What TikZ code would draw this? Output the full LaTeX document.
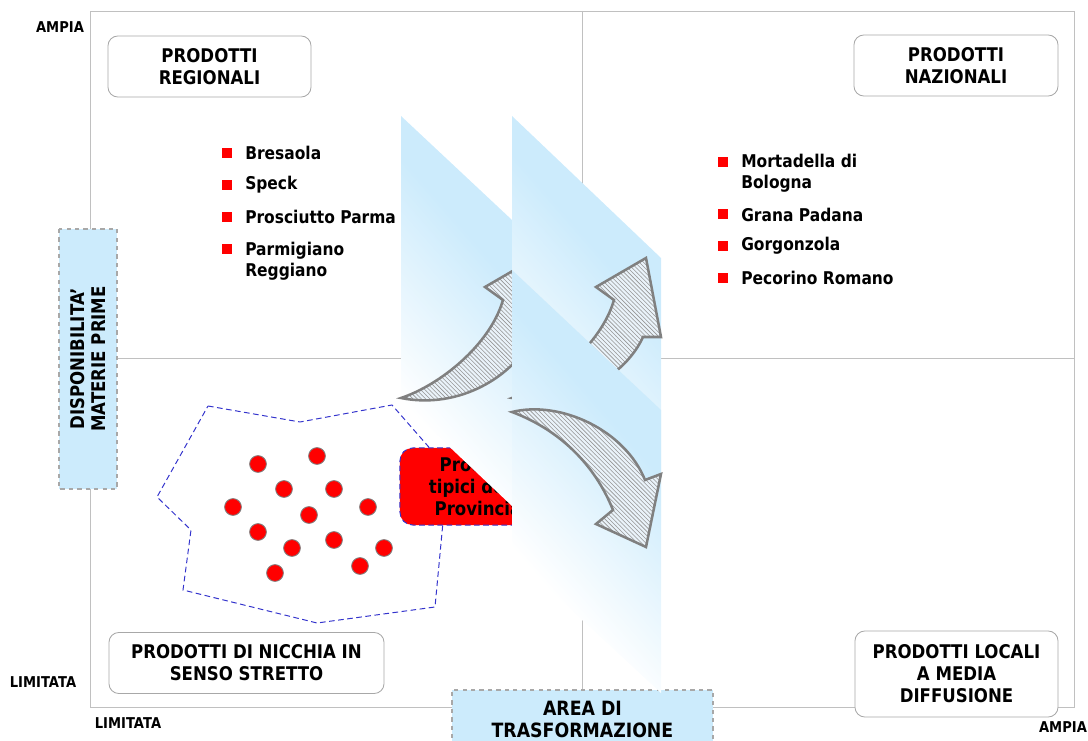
\documentclass[tikz,border=0pt]{standalone}
\usepackage{fontspec}
\setmainfont{DejaVu Sans}[FakeStretch=0.88]
\usepackage{tikz}
\usetikzlibrary{patterns}

\definecolor{framegray}{RGB}{192,192,192}
\definecolor{boxgray}{RGB}{168,168,168}
\definecolor{lblue}{RGB}{204,235,252}
\definecolor{polyblue}{RGB}{51,51,204}
\definecolor{arrowgray}{RGB}{128,128,128}
\definecolor{arrowfill}{RGB}{234,243,250}
\definecolor{hatchgray}{RGB}{150,150,150}

\pgfdeclareverticalshading{bandshade}{100bp}{color(0bp)=(white); color(40bp)=(white); color(56bp)=(lblue); color(100bp)=(lblue)}

\newcommand{\quadfont}{\fontsize{13.4}{15.6}\selectfont\bfseries}
\newcommand{\listfont}{\fontsize{12.5}{15}\selectfont\bfseries}
\newcommand{\axfont}{\fontsize{10.6}{12}\selectfont\bfseries}

\tikzset{
    quadbox/.style={draw=boxgray, line width=0.6pt, rounded corners=7pt, fill=white, align=center, inner sep=0pt, font=\quadfont},
    axisbox/.style={draw=boxgray, dashed, line width=0.8pt, fill=lblue, align=center, inner sep=0pt, font=\quadfont},
    axlabel/.style={font=\axfont, inner sep=0pt},
    sqbullet/.style={fill=red, minimum size=0.26cm, inner sep=0pt},
    listitem/.style={font=\listfont, align=left, anchor=west, inner sep=0pt},
    reddot/.style={circle, fill=red, draw=gray, line width=0.6pt, minimum size=0.42cm, inner sep=0pt},
    nicchiaarea/.style={draw=polyblue, line width=0.7pt, dash pattern=on 4pt off 2.5pt},
    tipicibox/.style={fill=red, draw=polyblue, line width=0.7pt, dash pattern=on 4pt off 2.5pt, rounded corners=9pt, align=center, inner sep=0pt, font=\quadfont},
    curvedarrow/.style={draw=arrowgray, line width=1.8pt, preaction={fill=arrowfill}, pattern=north west lines, pattern color=hatchgray},
    band/.style={shading=bandshade, shading angle=-49}
}

\begin{document}
\begin{tikzpicture}[x=0.025cm, y=-0.025cm]
    \useasboundingbox (0,0) rectangle (1088,741);
    \clip (0,0) rectangle (1088,741);

    % Quadrants
    \draw[framegray, line width=0.7pt] (90,11) rectangle (1074,707);
    \draw[framegray, line width=0.7pt] (582,11) -- (582,707) (90,358) -- (1074,358);

    \node[quadbox, minimum width=5.075cm, minimum height=1.525cm] (regionali) at (209.5,66.5) {PRODOTTI\\REGIONALI};
    \node[quadbox, minimum width=5.1cm, minimum height=1.525cm] (nazionali) at (956,65.5) {PRODOTTI\\NAZIONALI};
    \node[quadbox, minimum width=6.875cm, minimum height=1.525cm] (nicchia) at (246.5,663) {PRODOTTI DI NICCHIA IN\\SENSO STRETTO};
    \node[quadbox, minimum width=5.075cm, minimum height=2.15cm] (locali) at (956.5,674) {PRODOTTI LOCALI\\A MEDIA\\DIFFUSIONE};

    % Axes
    \node[axlabel] (ampiaY) at (60,27.5) {AMPIA};
    \node[axlabel] (limY) at (43,682) {LIMITATA};
    \node[axlabel] (limX) at (128,723) {LIMITATA};
    \node[axlabel] (ampiaX) at (1063,727) {AMPIA};
    \node[axisbox, rotate=90, minimum width=6.5cm, minimum height=1.45cm] (disp) at (88,359) {DISPONIBILITA’\\MATERIE PRIME};

    % Product lists
    \foreach \yb/\yt/\txt [count=\i] in {153/153/Bresaola, 185/185/Speck, 217/217/Prosciutto Parma, 249/261/{Parmigiano\\Reggiano}} {
        \node[sqbullet] (bl\i) at (227,\yb) {};
        \node[listitem] (il\i) at (245,\yt) {\txt};
    }
    \foreach \yb/\yt/\txt [count=\i] in {162/173/{Mortadella di\\Bologna}, 214/215/Grana Padana, 246/246/Gorgonzola, 278/278/Pecorino Romano} {
        \node[sqbullet] (br\i) at (723,\yb) {};
        \node[listitem] (ir\i) at (741,\yt) {\txt};
    }

    % Niche products
    \draw[nicchiaarea] (208,406) -- (300,422) -- (392,405) -- (448,469) -- (435,607) -- (317,623) -- (183,590) -- (191,530) -- (157,497) -- cycle;
    \foreach \x/\y [count=\i] in {258/464, 317/456, 284/489, 334/489, 233/507, 368/507, 309/515, 258/532, 334/540, 292/548, 384/548, 360/566, 275/573} {
        \node[reddot] (d\i) at (\x,\y) {};
    }
    \node[tipicibox, minimum width=3.9cm, minimum height=1.925cm] (tipici) at (478,486.5) {Prodotti\\tipici della\\Provincia};

    % Transformation
    \begin{scope}
        \clip (401,116) -- (512,220) -- (512,506) -- (401,401) -- cycle;
        \shade[band] (206,61) rectangle (706,561);
    \end{scope}
    \draw[curvedarrow] (401,398) .. controls (440,385) and (490,345) .. (503,300) -- (485,287) -- (535,258) -- (550,337) -- (532,337) .. controls (515,375) and (460,410) .. (401,398) -- cycle;

    \begin{scope}
        \clip (512,116) -- (661,258) -- (661,543) -- (512,401) -- cycle;
        \shade[band] (336,79) rectangle (836,579);
    \end{scope}
    \draw[curvedarrow, shift={(111,0)}] (401,398) .. controls (440,385) and (490,345) .. (503,300) -- (485,287) -- (535,258) -- (550,337) -- (532,337) .. controls (515,375) and (460,410) .. (401,398) -- cycle;

    \node[axisbox, font=\fontsize{14}{15.6}\selectfont\bfseries, minimum width=6.525cm, minimum height=1.45cm] (area) at (582.5,719) {AREA DI\\TRASFORMAZIONE};

    \begin{scope}
        \clip (512,270) -- (661,410) -- (661,693) -- (512,555) -- cycle;
        \shade[band] (336,231) rectangle (836,731);
    \end{scope}
    \draw[curvedarrow] (512,412) .. controls (560,400) and (625,430) .. (645,480) -- (661,474) -- (646,547) -- (596,524) -- (613,510) .. controls (595,465) and (560,430) .. (512,412) -- cycle;
\end{tikzpicture}
\end{document}
